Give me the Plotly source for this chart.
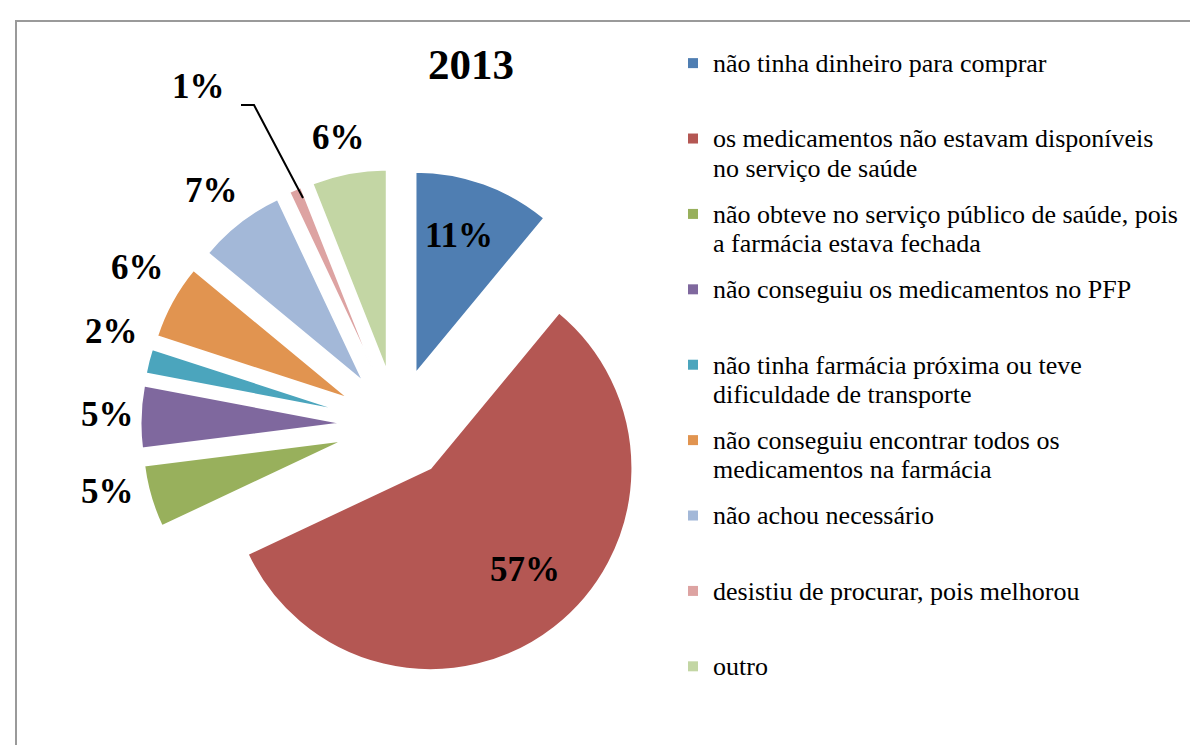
import plotly.graph_objects as go

W, H = 1198, 745

# ---- data ----
title_text = "2013"
categories = [
    "não tinha dinheiro para comprar",
    "os medicamentos não estavam disponíveis|no serviço de saúde",
    "não obteve no serviço público de saúde, pois|a farmácia estava fechada",
    "não conseguiu os medicamentos no PFP",
    "não tinha farmácia próxima ou teve|dificuldade de transporte",
    "não conseguiu encontrar todos os|medicamentos na farmácia",
    "não achou necessário",
    "desistiu de procurar, pois melhorou",
    "outro",
]
percent_values = [11, 57, 5, 5, 2, 6, 7, 1, 6]
slice_colors = ["#4F7EB2", "#B45753", "#98B05C", "#7F689E", "#4BA5BD",
                "#E19450", "#A3B8D8", "#DDA3A2", "#C3D6A4"]

# ---- layout helpers (pixel -> paper) ----
def px(x):
    return x / W

def py(y):
    return 1 - y / H

SERIF = "Liberation Serif"
LEG_FS = 22.5      # legend base size (drives line spacing)
TXT_FS = 26        # visible legend text size
ROW = 75.4         # distance between legend entries (px)
GAP = ROW - (2 * 1.3 * LEG_FS + 3)

def legend_label(cat):
    parts = cat.split("|")
    lines = [f'<span style="font-size:{TXT_FS}px">{p}</span>' for p in parts]
    while len(lines) < 2:
        lines.append(" ")
    return "<br>".join(lines)

# pie geometry: centre (389, 417) px, radius 202 px, explosion 0.27
cx, cy, R, pull = 389, 417, 202, 0.27
half = R * (1 + pull)

fig = go.Figure(go.Pie(
    labels=categories,
    values=percent_values,
    sort=False,
    direction="clockwise",
    rotation=0,
    pull=[pull] * len(percent_values),
    marker=dict(colors=slice_colors, line=dict(color="white", width=2)),
    textinfo="none",
    hoverinfo="percent",
    showlegend=False,
    domain=dict(x=[px(cx - half), px(cx + half)], y=[py(cy + half), py(cy - half)]),
))

# legend entries (one per category, same colours as the slices)
for cat, col in zip(categories, slice_colors):
    fig.add_trace(go.Scatter(
        x=[None], y=[None], mode="markers",
        marker=dict(symbol="square", size=10, color=col),
        name=legend_label(cat), legendgroup=cat, showlegend=True, hoverinfo="skip",
    ))

# percentage labels (text from data, placed like the original)
label_pos = [(451, 227), (517, 561), (99, 483), (99, 406), (103, 323),
             (129, 260), (203, 182), (190, 79), (330, 129)]
annotations = []
for v, (lx, ly) in zip(percent_values, label_pos):
    annotations.append(dict(
        x=px(lx), y=py(ly), xref="paper", yref="paper", showarrow=False,
        text=f"<b>{v}%</b>", font=dict(family=SERIF, size=35, color="black"),
        xanchor="center", yanchor="middle"))
annotations.append(dict(
    x=px(463), y=py(57), xref="paper", yref="paper", showarrow=False,
    text=f"<b>{title_text}</b>", font=dict(family=SERIF, size=43, color="black"),
    xanchor="center", yanchor="middle"))

shapes = [
    # leader line for the 1% label
    dict(type="path", xref="paper", yref="paper",
         path=f"M{px(233)},{py(97)} L{px(246)},{py(97)} L{px(295)},{py(190)}",
         line=dict(color="black", width=2)),
    # chart-area border
    dict(type="rect", xref="paper", yref="paper",
         x0=px(8), y0=py(760), x1=px(1220), y1=py(13),
         line=dict(color="#9A9A9A", width=2), fillcolor="rgba(0,0,0,0)"),
]

fig.update_layout(
    width=W, height=H,
    margin=dict(l=0, r=0, t=0, b=0),
    paper_bgcolor="white", plot_bgcolor="white",
    font=dict(family=SERIF, color="black"),
    showlegend=True,
    xaxis=dict(visible=False), yaxis=dict(visible=False),
    legend=dict(
        x=px(665), y=py(34), xanchor="left", yanchor="top",
        font=dict(family=SERIF, size=LEG_FS, color="black"),
        valign="top", bgcolor="rgba(0,0,0,0)", traceorder="grouped",
        tracegroupgap=GAP,
    ),
    annotations=annotations,
    shapes=shapes,
)

fig.write_html("out.html")
